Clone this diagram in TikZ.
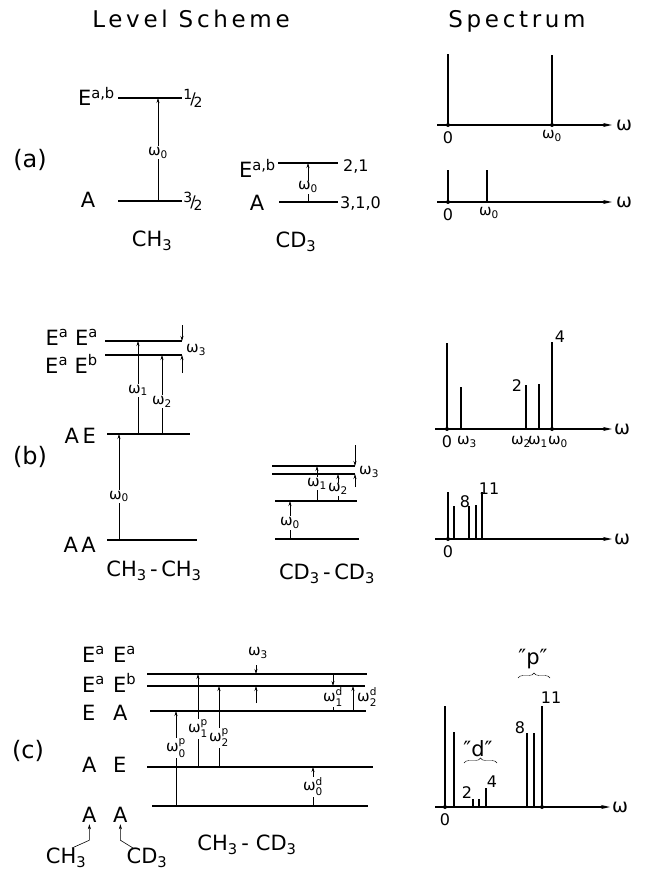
\documentclass[tikz,border=0pt]{standalone}
\usepackage{amsmath}
\usepackage{fontspec}
\setmainfont{DejaVu Sans}
\usepackage{tikz}
\usetikzlibrary{arrows.meta}
\usetikzlibrary{decorations.pathreplacing}
\usetikzlibrary{positioning}

\newcommand{\omg}[1]{$\text{ω}_{\text{#1}}$}
\newcommand{\omgx}[2]{$\text{ω}^{\text{#2}}_{\text{#1}}$}
\newcommand{\half}[2]{\raisebox{5pt}{\fontsize{14}{14}\selectfont #1}\kern-2pt/\kern-2pt\raisebox{-3pt}{\fontsize{14}{14}\selectfont #2}}

\begin{document}
\begin{tikzpicture}[x=1pt,y=-1pt,
    lvl/.style={line width=1.7pt},
    trans/.style={line width=0.6pt,-{Stealth[length=5pt,width=3pt]}},
    tline/.style={line width=0.6pt},
    peak/.style={line width=1.2pt},
    axis/.style={line width=1.5pt,-{Stealth[length=9pt,width=4pt]}},
    lab/.style={font=\fontsize{21}{21}\selectfont,inner sep=0pt},
    part/.style={font=\fontsize{24}{24}\selectfont,inner sep=0pt},
    wlab/.style={font=\fontsize{15}{15}\selectfont,inner sep=1pt},
    wl/.style={wlab,fill=white},
    num/.style={font=\fontsize{16}{16}\selectfont,inner sep=0pt},
    omax/.style={font=\fontsize{19}{19}\selectfont,inner sep=0pt},
    ttl/.style={font=\fontsize{23}{23}\selectfont\addfontfeature{LetterSpace=16},inner sep=0pt},
    dot/.style={circle,fill,inner sep=0pt,minimum size=4pt}]
    \useasboundingbox (0,0) rectangle (645,874);

    \node[ttl,anchor=base] (tlev) at (191,28) {Level Scheme};
    \node[ttl,anchor=base] (tspec) at (517,28) {Spectrum};

    \node[part] (parta) at (30,160) {(a)};
    \coordinate (aEl) at (118,98);
    \coordinate (aEr) at (182,98);
    \coordinate (aAl) at (118,201);
    \coordinate (aAr) at (182,201);
    \draw[lvl] (aEl) -- (aEr);
    \draw[lvl] (aAl) -- (aAr);
    \node[lab,anchor=base east] (aE) at (115,106) {E\textsuperscript{a,b}};
    \node[lab,anchor=base] (aA) at (88,208) {A};
    \node[num] (aEj) at (193,98) {\half{1}{2}};
    \node[num] (aAj) at (193,201) {\half{3}{2}};
    \draw[trans] (aAl -| 158,0) -- (aEl -| 158,0) node[wl,pos=0.47] (aw0) {\omg{0}};
    \node[lab] (ach) at (152,241) {CH\textsubscript{3}};

    \coordinate (cEl) at (278,163);
    \coordinate (cEr) at (338,163);
    \coordinate (cAl) at (279,202);
    \coordinate (cAr) at (338,202);
    \draw[lvl] (cEl) -- (cEr);
    \draw[lvl] (cAl) -- (cAr);
    \node[lab,anchor=base east] (cE) at (276,178) {E\textsuperscript{a,b}};
    \node[lab,anchor=base] (cA) at (257,211) {A};
    \node[num,anchor=west] (cEj) at (343,166) {2,1};
    \node[num,anchor=west] (cAj) at (340,203) {3,1,0};
    \draw[trans] (cAl -| 308,0) -- (cEl -| 308,0) node[wl,pos=0.38] (cw0) {\omg{0}};
    \node[lab] (acd) at (296,242) {CD\textsubscript{3}};

    \coordinate (sa1) at (437,125);
    \coordinate (sa1e) at (612,125);
    \draw[axis] (sa1) -- (sa1e);
    \node[omax] (sa1w) at (624,125) {ω};
    \node[dot] (sa1z) at (448,125) {};
    \node[dot] (sa1o) at (552,125) {};
    \draw[peak] (sa1z.center) -- ++(0,-71);
    \draw[peak] (sa1o.center) -- ++(0,-70);
    \node[num,below=4pt of sa1z] (sa1zl) {0};
    \node[wlab,below=2pt of sa1o] (sa1ol) {\omg{0}};

    \coordinate (sa2) at (437,202);
    \coordinate (sa2e) at (612,202);
    \draw[axis] (sa2) -- (sa2e);
    \node[omax] (sa2w) at (624,202) {ω};
    \node[dot] (sa2z) at (448,202) {};
    \draw[peak] (sa2z.center) -- ++(0,-32);
    \draw[peak] (sa2 -| 487,0) -- ++(0,-32);
    \node[num,below=4pt of sa2z] (sa2zl) {0};
    \node[wlab,anchor=north] (sa2ol) at (489,206) {\omg{0}};

    \node[part] (partb) at (30,457) {(b)};
    \coordinate (bT) at (105,341);
    \coordinate (bTr) at (182,341);
    \coordinate (bS) at (105,355);
    \coordinate (bSr) at (182,355);
    \coordinate (bAE) at (107,434);
    \coordinate (bAEr) at (190,434);
    \coordinate (bAA) at (107,540);
    \coordinate (bAAr) at (197,540);
    \draw[lvl] (bT) -- (bTr);
    \draw[lvl] (bS) -- (bSr);
    \draw[lvl] (bAE) -- (bAEr);
    \draw[lvl] (bAA) -- (bAAr);
    \node[lab,anchor=base east] (bEaEa) at (98,345) {E\textsuperscript{a} E\textsuperscript{a}};
    \node[lab,anchor=base east] (bEaEb) at (98,373) {E\textsuperscript{a} E\textsuperscript{b}};
    \node[lab,anchor=base east] (bAEl) at (96,443) {A\,E};
    \node[lab,anchor=base east] (bAAl) at (96,552) {A\,A};
    \draw[trans] (bAE -| 138,0) -- (bT -| 138,0) node[wl,pos=0.47] (bw1) {\omg{1}};
    \draw[trans] (bAE -| 162,0) -- (bS -| 162,0) node[wl,pos=0.41] (bw2) {\omg{2}};
    \coordinate (bw3a) at (182,325);
    \coordinate (bw3b) at (182,373);
    \draw[trans] (bw3a) -- (bT -| bw3a);
    \draw[trans] (bw3b) -- (bS -| bw3b);
    \node[wlab,anchor=west] (bw3) at (185,350) {\omg{3}};
    \draw[trans] (bAA -| 119,0) -- (bAE -| 119,0) node[wl,pos=0.41] (bw0) {\omg{0}};
    \node[lab] (bch) at (154,571) {CH\textsubscript{3}\,-\,CH\textsubscript{3}};

    \coordinate (dT) at (272,466);
    \coordinate (dTr) at (355,466);
    \coordinate (dS) at (272,474);
    \coordinate (dSr) at (355,474);
    \coordinate (dM) at (275,501);
    \coordinate (dMr) at (357,501);
    \coordinate (dB) at (275,539);
    \coordinate (dBr) at (359,539);
    \draw[lvl] (dT) -- (dTr);
    \draw[lvl] (dS) -- (dSr);
    \draw[lvl] (dM) -- (dMr);
    \draw[lvl] (dB) -- (dBr);
    \draw[trans] (dB -| 290,0) -- (dM -| 290,0) node[wl,pos=0.42] (dw0) {\omg{0}};
    \draw[trans] (dM -| 317,0) -- (dT -| 317,0) node[wl,pos=0.49] (dw1) {\omg{1}};
    \draw[trans] (dM -| 338,0) -- (dS -| 338,0) node[wl,pos=0.44] (dw2) {\omg{2}};
    \coordinate (dw3a) at (355,445);
    \coordinate (dw3b) at (355,487);
    \draw[trans] (dw3a) -- (dT -| dw3a);
    \draw[trans] (dw3b) -- (dS -| dw3b);
    \node[wlab,anchor=west] (dw3) at (358,472) {\omg{3}};
    \node[lab] (dcd) at (327,574) {CD\textsubscript{3}\,-\,CD\textsubscript{3}};

    \coordinate (sb1) at (435,429);
    \coordinate (sb1e) at (612,429);
    \draw[axis] (sb1) -- (sb1e);
    \node[omax] (sb1w) at (622,429) {ω};
    \node[dot] (sb1z) at (447,429) {};
    \node[dot] (sb1o) at (552,429) {};
    \draw[peak] (sb1z.center) -- ++(0,-86);
    \draw[peak] (sb1 -| 461,0) -- ++(0,-42);
    \draw[peak] (sb1 -| 526,0) -- ++(0,-44);
    \draw[peak] (sb1 -| 539,0) -- ++(0,-45);
    \draw[peak] (sb1o.center) -- ++(0,-87);
    \node[num,below=4pt of sb1z] (sb1zl) {0};
    \node[wlab] (sb1l3) at (467,442) {\omg{3}};
    \node[wlab,inner sep=0pt] (sb1l2) at (521,442) {\omg{2}};
    \node[wlab,inner sep=0pt] (sb1l1) at (538,442) {\omg{1}};
    \node[wlab,inner sep=0pt] (sb1l0) at (558,442) {\omg{0}};
    \node[num] (sb1n2) at (517,386) {2};
    \node[num] (sb1n4) at (560,337) {4};

    \coordinate (sb2) at (435,539);
    \coordinate (sb2e) at (612,539);
    \draw[axis] (sb2) -- (sb2e);
    \node[omax] (sb2w) at (622,539) {ω};
    \node[dot] (sb2z) at (448,539) {};
    \draw[peak] (sb2z.center) -- ++(0,-47);
    \draw[peak] (sb2 -| 454,0) -- ++(0,-33);
    \draw[peak] (sb2 -| 469,0) -- ++(0,-33);
    \draw[peak] (sb2 -| 476,0) -- ++(0,-34);
    \draw[peak] (sb2 -| 482,0) -- ++(0,-47);
    \node[num,below=4pt of sb2z] (sb2zl) {0};
    \node[num] (sb2n8) at (465,502) {8};
    \node[num] (sb2n11) at (489,489) {11};

    \node[part] (partc) at (28,751) {(c)};
    \node[lab,anchor=base west] (c1l) at (82,662) {E\textsuperscript{a}};
    \node[lab,anchor=base west] (c1r) at (113,662) {E\textsuperscript{a}};
    \node[lab,anchor=base west] (c2l) at (82,692) {E\textsuperscript{a}};
    \node[lab,anchor=base west] (c2r) at (113,692) {E\textsuperscript{b}};
    \node[lab,anchor=base west] (c3l) at (82,720) {E};
    \node[lab,anchor=base west] (c3r) at (113,720) {A};
    \node[lab,anchor=base west] (c4l) at (82,772) {A};
    \node[lab,anchor=base west] (c4r) at (113,772) {E};
    \node[lab,anchor=base west] (c5l) at (82,822) {A};
    \node[lab,anchor=base west] (c5r) at (113,822) {A};
    \node[lab] (cch) at (66,858) {CH\textsubscript{3}};
    \node[lab] (ccd) at (147,858) {CD\textsubscript{3}};
    \draw[trans] ([xshift=6pt]cch.north) -- ([yshift=-18pt]c5l.south) -- ([yshift=-2pt]c5l.south);
    \draw[trans] ([xshift=-14pt]ccd.north) -- ([yshift=-18pt]c5r.south) -- ([yshift=-2pt]c5r.south);

    \coordinate (cT) at (147,674);
    \coordinate (cTr) at (367,674);
    \coordinate (cS) at (147,686);
    \coordinate (cSr) at (365,686);
    \coordinate (cEA) at (150,711);
    \coordinate (cEAr) at (366,711);
    \coordinate (cAE) at (147,767);
    \coordinate (cAEr) at (373,767);
    \coordinate (cAA) at (152,806);
    \coordinate (cAAr) at (368,806);
    \draw[lvl] (cT) -- (cTr);
    \draw[lvl] (cS) -- (cSr);
    \draw[lvl] (cEA) -- (cEAr);
    \draw[lvl] (cAE) -- (cAEr);
    \draw[lvl] (cAA) -- (cAAr);
    \draw[trans] (cAA -| 176,0) -- (cEA -| 176,0) node[wl,pos=0.61] (cw0p) {\omgx{0}{p}};
    \draw[trans] (cAE -| 198,0) -- (cT -| 198,0) node[wl,pos=0.41] (cw1p) {\omgx{1}{p}};
    \draw[trans] (cAE -| 219,0) -- (cS -| 219,0) node[wl,pos=0.36] (cw2p) {\omgx{2}{p}};
    \coordinate (cw3a) at (256,665);
    \coordinate (cw3b) at (256,703);
    \draw[trans] (cw3a) -- (cT -| cw3a);
    \draw[trans] (cw3b) -- (cS -| cw3b);
    \node[wlab] (cw3) at (258,653) {\omg{3}};
    \draw[trans] (cT -| 333,0) -- (cS -| 333,0);
    \draw[tline] (cS -| 333,0) -- (cEA -| 333,0) node[wl,pos=0.44] (cw1d) {\omgx{1}{d}};
    \draw[trans] (cEA -| 353,0) -- (cS -| 353,0);
    \node[wlab,anchor=west] (cw2d) at (356,697) {\omgx{2}{d}};
    \draw[trans] (cAA -| 313,0) -- (cAE -| 313,0) node[wl,pos=0.49] (cw0d) {\omgx{0}{d}};
    \node[lab] (cchcd) at (247,845) {CH\textsubscript{3}\,-\,\,CD\textsubscript{3}};

    \coordinate (sc) at (435,807);
    \coordinate (sce) at (610,807);
    \draw[axis] (sc) -- (sce);
    \node[omax] (scw) at (620,807) {ω};
    \node[dot] (scz) at (445,807) {};
    \node[dot] (scp) at (542,807) {};
    \draw[peak] (scz.center) -- ++(0,-101);
    \draw[peak] (sc -| 454,0) -- ++(0,-75);
    \draw[peak] (sc -| 473,0) -- ++(0,-8);
    \draw[peak] (sc -| 479,0) -- ++(0,-8);
    \draw[peak] (sc -| 486,0) -- ++(0,-19);
    \draw[peak] (sc -| 527,0) -- ++(0,-74);
    \draw[peak] (sc -| 534,0) -- ++(0,-74);
    \draw[peak] (scp.center) -- ++(0,-101);
    \node[num,below=4pt of scz] (sczl) {0};
    \node[num] (scn2) at (467,793) {2};
    \node[num] (scn4) at (492,782) {4};
    \node[num] (scn8) at (520,728) {8};
    \node[num] (scn11) at (551,698) {11};
    \node[lab] (scd) at (478,749) {″d″};
    \node[lab] (scpl) at (533,659) {″p″};
    \coordinate (scdb1) at (464,763);
    \coordinate (scdb2) at (497,763);
    \coordinate (scpb1) at (518,678);
    \coordinate (scpb2) at (550,678);
    \draw[decorate,decoration={brace,amplitude=5pt}] (scdb1) -- (scdb2);
    \draw[decorate,decoration={brace,amplitude=5pt}] (scpb1) -- (scpb2);
\end{tikzpicture}
\end{document}
